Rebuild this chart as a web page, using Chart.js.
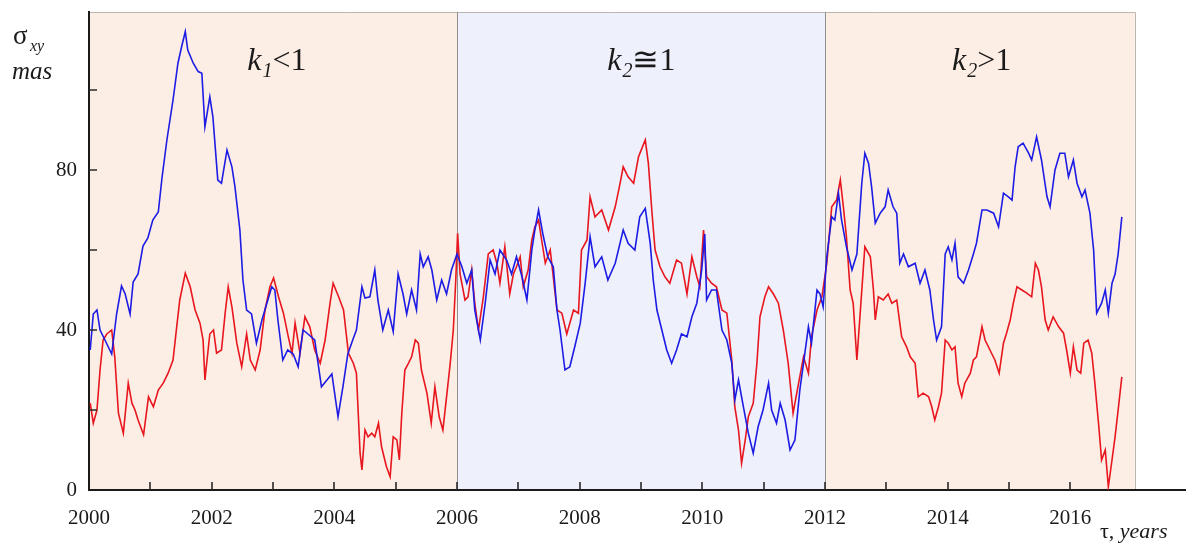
<!DOCTYPE html>
<html>
<head>
<meta charset="utf-8">
<script src="https://cdn.jsdelivr.net/npm/chart.js@4.4.1/dist/chart.umd.min.js"></script>
<style>
	html, body { margin: 0; padding: 0; background: #fff; }
	#wrap { width: 1187px; height: 546px; }
</style>
</head>
<body>
<div id="wrap"><canvas id="chart" width="1187" height="546"></canvas></div>
<script>
// blue series (sigma, mas)
const blueYears = [
	2000.02, 2000.07, 2000.13, 2000.18, 2000.26, 2000.37, 2000.45, 2000.53, 2000.59, 2000.67,
	2000.72, 2000.80, 2000.88, 2000.96, 2001.04, 2001.13, 2001.19, 2001.27, 2001.32, 2001.37,
	2001.45, 2001.51, 2001.57, 2001.61, 2001.70, 2001.78, 2001.84, 2001.89, 2001.97, 2002.02,
	2002.10, 2002.16, 2002.25, 2002.33, 2002.38, 2002.46, 2002.51, 2002.57, 2002.65, 2002.73,
	2002.82, 2002.90, 2002.98, 2003.03, 2003.08, 2003.16, 2003.24, 2003.33, 2003.41, 2003.49,
	2003.57, 2003.68, 2003.79, 2003.88, 2003.96, 2004.06, 2004.14, 2004.22, 2004.30, 2004.36,
	2004.45, 2004.50, 2004.58, 2004.66, 2004.71, 2004.79, 2004.88, 2004.96, 2005.04, 2005.12,
	2005.18, 2005.26, 2005.34, 2005.40, 2005.45, 2005.53, 2005.59, 2005.67, 2005.75, 2005.83,
	2005.91, 2006.00, 2006.08, 2006.16, 2006.24, 2006.29, 2006.38, 2006.46, 2006.54, 2006.62,
	2006.70, 2006.81, 2006.89, 2006.97, 2007.06, 2007.14, 2007.22, 2007.27, 2007.33, 2007.40,
	2007.48, 2007.57, 2007.63, 2007.68, 2007.76, 2007.84, 2007.92, 2008.01, 2008.09, 2008.17,
	2008.25, 2008.36, 2008.46, 2008.58, 2008.71, 2008.79, 2008.90, 2008.98, 2009.07, 2009.15,
	2009.20, 2009.26, 2009.34, 2009.42, 2009.50, 2009.58, 2009.66, 2009.75, 2009.83, 2009.91,
	2009.99, 2010.04, 2010.07, 2010.15, 2010.23, 2010.32, 2010.40, 2010.48, 2010.53, 2010.59,
	2010.67, 2010.75, 2010.83, 2010.91, 2010.99, 2011.08, 2011.13, 2011.21, 2011.27, 2011.35,
	2011.43, 2011.51, 2011.59, 2011.65, 2011.73, 2011.78, 2011.87, 2011.92, 2011.97, 2012.03,
	2012.11, 2012.16, 2012.22, 2012.27, 2012.35, 2012.44, 2012.52, 2012.60, 2012.65, 2012.71,
	2012.76, 2012.82, 2012.90, 2012.98, 2013.03, 2013.11, 2013.17, 2013.22, 2013.28, 2013.36,
	2013.47, 2013.55, 2013.63, 2013.71, 2013.77, 2013.82, 2013.90, 2013.96, 2014.01, 2014.07,
	2014.12, 2014.17, 2014.26, 2014.34, 2014.42, 2014.47, 2014.56, 2014.64, 2014.75, 2014.83,
	2014.91, 2014.99, 2015.05, 2015.10, 2015.15, 2015.23, 2015.32, 2015.37, 2015.45, 2015.53,
	2015.62, 2015.67, 2015.75, 2015.83, 2015.91, 2015.97, 2016.05, 2016.11, 2016.19, 2016.24,
	2016.32, 2016.38, 2016.43, 2016.51, 2016.57, 2016.62, 2016.68, 2016.73, 2016.78, 2016.84,
];
const blueValues = [
	35, 44, 45, 40, 37.5, 34, 44, 51, 49, 44,
	52, 54, 61, 63, 67.5, 69.5, 78, 87.5, 92.5, 97.5,
	106.7, 110.8, 114.6, 110, 106.7, 104.6, 104.2, 90.8, 98.3, 93.3,
	77.5, 76.7, 85, 80.8, 75.8, 65, 52.5, 45, 44, 36.7,
	42.5, 46.7, 50.8, 50, 42.5, 32.5, 35, 34, 30.8, 40,
	39, 37.5, 25.8, 27.5, 29, 18.3, 25.8, 34, 37.5, 40,
	50.8, 48, 48.3, 55, 47.5, 40, 45, 39.6, 54, 49,
	44, 50, 45, 59, 55.8, 58.3, 55, 47.5, 52.5, 49,
	55, 59, 55.8, 51.7, 55, 45, 37.5, 46.7, 57.5, 54,
	60, 57.5, 54, 58.3, 53.3, 47.5, 60, 65, 70, 64,
	58.3, 55.8, 45, 40, 30, 30.8, 35.8, 41.7, 51.7, 63.3,
	55.8, 58.3, 52.5, 56.7, 65, 61.7, 60, 68.3, 70.4, 61.7,
	52.5, 45, 40, 35, 31.7, 35, 39, 38.3, 43.3, 46.7,
	55, 64, 47.5, 50, 50, 40, 37.5, 31.7, 22.5, 27.5,
	20.8, 14.2, 9.2, 15.8, 20, 26.7, 20, 16.7, 21.7, 17.5,
	10, 12.5, 25, 31.7, 40.8, 36.7, 50, 49, 45.8, 58.3,
	68.3, 67.5, 74.2, 67.5, 60.8, 55, 59, 76.7, 84.2, 81.7,
	75.8, 66.7, 69.2, 70.8, 75, 70.8, 69.2, 56.7, 59, 55.8,
	56.7, 51.7, 55, 50, 42.5, 37.5, 40.8, 59, 60.8, 57.5,
	61.7, 53.3, 51.7, 55, 59, 61.7, 70, 70, 69.2, 65.8,
	74.2, 73.3, 72.5, 80.8, 85.8, 86.7, 84.2, 82.5, 88.3, 82.5,
	73.3, 70.8, 80, 84.2, 84.2, 78.3, 82.5, 76.7, 73.3, 75,
	69.2, 60, 44.2, 46.7, 50, 44.2, 51.7, 54, 59, 68.3,
];

// red series
const redYears = [
	2000.02, 2000.07, 2000.13, 2000.18, 2000.23, 2000.29, 2000.37, 2000.42, 2000.48, 2000.56,
	2000.64, 2000.70, 2000.75, 2000.80, 2000.89, 2000.97, 2001.05, 2001.13, 2001.21, 2001.29,
	2001.37, 2001.43, 2001.48, 2001.57, 2001.65, 2001.73, 2001.81, 2001.86, 2001.89, 2001.97,
	2002.03, 2002.08, 2002.16, 2002.22, 2002.27, 2002.33, 2002.41, 2002.49, 2002.57, 2002.63,
	2002.71, 2002.79, 2002.87, 2002.95, 2003.01, 2003.09, 2003.17, 2003.25, 2003.31, 2003.36,
	2003.44, 2003.52, 2003.60, 2003.68, 2003.77, 2003.85, 2003.93, 2003.98, 2004.07, 2004.15,
	2004.23, 2004.31, 2004.36, 2004.42, 2004.45, 2004.50, 2004.55, 2004.61, 2004.66, 2004.72,
	2004.77, 2004.85, 2004.91, 2004.96, 2005.02, 2005.06, 2005.10, 2005.15, 2005.21, 2005.26,
	2005.32, 2005.37, 2005.42, 2005.51, 2005.58, 2005.64, 2005.71, 2005.77, 2005.83, 2005.89,
	2005.94, 2005.98, 2006.01, 2006.05, 2006.13, 2006.18, 2006.24, 2006.29, 2006.35, 2006.43,
	2006.51, 2006.59, 2006.65, 2006.70, 2006.78, 2006.86, 2006.92, 2006.97, 2007.03, 2007.08,
	2007.16, 2007.22, 2007.27, 2007.33, 2007.38, 2007.44, 2007.52, 2007.57, 2007.63, 2007.71,
	2007.79, 2007.90, 2007.98, 2008.03, 2008.12, 2008.17, 2008.25, 2008.36, 2008.47, 2008.58,
	2008.66, 2008.71, 2008.79, 2008.88, 2008.96, 2009.07, 2009.12, 2009.18, 2009.23, 2009.31,
	2009.39, 2009.47, 2009.58, 2009.66, 2009.75, 2009.83, 2009.91, 2009.96, 2010.02, 2010.07,
	2010.15, 2010.23, 2010.32, 2010.40, 2010.48, 2010.53, 2010.59, 2010.64, 2010.70, 2010.75,
	2010.83, 2010.89, 2010.94, 2011.02, 2011.08, 2011.16, 2011.24, 2011.32, 2011.40, 2011.48,
	2011.57, 2011.65, 2011.73, 2011.78, 2011.87, 2011.95, 2012.03, 2012.11, 2012.19, 2012.25,
	2012.30, 2012.35, 2012.41, 2012.46, 2012.52, 2012.57, 2012.65, 2012.74, 2012.79, 2012.82,
	2012.87, 2012.95, 2013.03, 2013.09, 2013.17, 2013.25, 2013.33, 2013.39, 2013.47, 2013.52,
	2013.60, 2013.69, 2013.74, 2013.79, 2013.85, 2013.90, 2013.96, 2014.01, 2014.07, 2014.12,
	2014.17, 2014.23, 2014.28, 2014.37, 2014.42, 2014.47, 2014.56, 2014.61, 2014.69, 2014.77,
	2014.84, 2014.91, 2014.96, 2015.02, 2015.07, 2015.13, 2015.21, 2015.29, 2015.37, 2015.43,
	2015.48, 2015.53, 2015.59, 2015.64, 2015.72, 2015.81, 2015.89, 2015.94, 2016.00, 2016.05,
	2016.11, 2016.17, 2016.22, 2016.29, 2016.35, 2016.40, 2016.46, 2016.51, 2016.57, 2016.62,
	2016.68, 2016.73, 2016.78, 2016.84,
];
const redValues = [
	21.7, 16.7, 20, 30, 37.5, 39, 40, 33.3, 19.2, 14.2,
	26.7, 21.7, 20, 17.5, 13.8, 23.3, 20.8, 25, 26.7, 29.2,
	32.5, 40.8, 47.5, 54.2, 50.8, 45, 41.7, 37.5, 27.5, 39,
	40, 34.2, 35, 44.2, 50.8, 45.8, 36.7, 30.8, 39, 32.5,
	30, 35, 45, 50.8, 53, 48.3, 44.2, 38.3, 34.2, 41.7,
	34.2, 43.3, 40.8, 35, 31.7, 37.5, 46.7, 51.7, 48.3, 45,
	34.2, 31.7, 29.2, 9.2, 5, 15, 13.3, 14.2, 13.3, 16.7,
	10.8, 5.8, 3.3, 13.3, 12.5, 7.5, 19.2, 30, 31.7, 33.3,
	37.5, 36.7, 30, 24.2, 16.7, 25.8, 18.3, 15, 23.3, 31.7,
	40, 52.5, 64.2, 54, 47.5, 48.3, 55, 46.7, 40, 48.3,
	59, 60, 56.7, 51.7, 60.8, 49, 54, 55.8, 58.3, 50.8,
	55, 62.5, 65.8, 67.5, 62.5, 56.7, 60, 53.3, 45, 44.2,
	39, 45, 44.2, 60, 62.5, 73.3, 68.3, 70, 65, 70.8,
	76.7, 80.8, 78.3, 76.7, 83.3, 87.5, 81.7, 69.2, 60, 55.8,
	53.3, 51.7, 57.5, 56.7, 49, 58.3, 53.3, 50.8, 65, 53.3,
	51.7, 50.8, 45, 44.2, 32.5, 20.8, 15, 6.7, 12.5, 18.3,
	21.7, 31.7, 43.3, 48.3, 50.8, 49, 46.7, 40, 31.7, 19.2,
	26.7, 33.3, 29.2, 38.3, 45, 48.3, 56.7, 70.8, 72.5, 77.5,
	70.8, 63.3, 50, 46.7, 32.5, 43.3, 60.8, 58.3, 50, 42.5,
	48.3, 47.5, 49, 46.7, 47.5, 38.3, 35.8, 33.3, 31.7, 23.3,
	24.2, 23.3, 20.8, 17.5, 20.8, 24.2, 37.5, 36.7, 35, 35.8,
	26.7, 23.3, 26.7, 29.2, 32.5, 33.3, 40.8, 37.5, 35, 32.5,
	29.2, 36.7, 39.2, 42.5, 46.7, 50.8, 50, 49.2, 48.3, 56.7,
	55, 50.8, 42.5, 40, 43.3, 40.8, 39.2, 35, 29.2, 35.8,
	30, 29.2, 36.7, 37.5, 34.2, 26.7, 16.7, 7.5, 10, 0.8,
	7.5, 13.3, 20, 28.3,
];

const xLabelYears = [2000, 2002, 2004, 2006, 2008, 2010, 2012, 2014, 2016];
const yLabelValues = [0, 40, 80];
const zoneEdges = [2000, 2006, 2012, 2017.05];
const zoneLabels = [
	{ k: 'k', sub: '1', rest: '<1', from: 2002.58 },
	{ k: 'k', sub: '2', rest: '\u22451', from: 2008.45 },
	{ k: 'k', sub: '2', rest: '>1', from: 2014.07 },
];

const SERIF = '"Liberation Serif", "DejaVu Serif", serif';
const zoneFill = [ '#fdeee5', '#eef0fb', '#fdeee5' ];

const toPoints = ( xs, ys ) => xs.map( ( x, i ) => ( { x, y: ys[ i ] } ) );

// no extra room for the end labels: the plot box is placed by hand
const noPad = ( s ) => {
	s.paddingLeft = 0;
	s.paddingRight = 0;
	s.paddingTop = 0;
	s.paddingBottom = 0;
};

// shaded zones, frame and the two separators
const backdrop = {
	id: 'backdrop',
	beforeDraw( chart ) {
		const { ctx, chartArea: a, scales: { x } } = chart;
		ctx.save();
		for ( let i = 0; i < zoneEdges.length - 1; i++ ) {
			const x0 = x.getPixelForValue( zoneEdges[ i ] );
			const x1 = x.getPixelForValue( zoneEdges[ i + 1 ] );
			ctx.fillStyle = zoneFill[ i ];
			ctx.fillRect( x0, a.top, x1 - x0, a.bottom - a.top );
		}
		const xEnd = Math.round( x.getPixelForValue( zoneEdges[ zoneEdges.length - 1 ] ) ) + 0.5;
		ctx.strokeStyle = '#bdb6b0';
		ctx.lineWidth = 1;
		ctx.beginPath();
		ctx.moveTo( a.left, a.top + 0.5 );
		ctx.lineTo( xEnd, a.top + 0.5 );
		ctx.lineTo( xEnd, a.bottom );
		ctx.stroke();
		ctx.strokeStyle = '#8e8e8e';
		ctx.beginPath();
		zoneEdges.slice( 1, -1 ).forEach( ( yr ) => {
			const px = Math.round( x.getPixelForValue( yr ) ) + 0.5;
			ctx.moveTo( px, a.top );
			ctx.lineTo( px, a.bottom );
		} );
		ctx.stroke();
		ctx.restore();
	},
};

// inward tick marks, zone labels and axis titles
const decor = {
	id: 'decor',
	afterDraw( chart ) {
		const { ctx, chartArea: a, scales: { x, y } } = chart;
		ctx.save();
		ctx.strokeStyle = '#2a2a2a';
		ctx.lineWidth = 1.6;
		ctx.beginPath();
		x.ticks.forEach( ( t ) => {
			if ( Number.isInteger( t.value ) && t.value > x.min ) {
				const px = Math.round( x.getPixelForValue( t.value ) );
				ctx.moveTo( px, a.bottom );
				ctx.lineTo( px, a.bottom - 8 );
			}
		} );
		y.ticks.forEach( ( t ) => {
			if ( t.value > 0 && t.value % 20 === 0 ) {
				const py = Math.round( y.getPixelForValue( t.value ) );
				ctx.moveTo( a.left, py );
				ctx.lineTo( a.left + 8, py );
			}
		} );
		ctx.stroke();

		ctx.fillStyle = '#1a1a1a';
		ctx.textBaseline = 'alphabetic';
		ctx.textAlign = 'left';
		const base = y.getPixelForValue( 105 );
		zoneLabels.forEach( ( lab ) => {
			let px = x.getPixelForValue( lab.from );
			ctx.font = 'italic 32px ' + SERIF;
			ctx.fillText( lab.k, px, base );
			px += ctx.measureText( lab.k ).width + 1;
			ctx.font = 'italic 20px ' + SERIF;
			ctx.fillText( lab.sub, px, base + 7 );
			px += ctx.measureText( lab.sub ).width;
			ctx.font = '32px ' + SERIF;
			ctx.fillText( lab.rest, px, base );
		} );

		// y title: sigma_xy, mas
		ctx.font = '27px ' + SERIF;
		ctx.fillText( '\u03c3', 13, 44 );
		ctx.font = 'italic 16px ' + SERIF;
		ctx.fillText( 'xy', 30, 51 );
		ctx.font = 'italic 25px ' + SERIF;
		ctx.fillText( 'mas', 12, 79 );

		// x title: tau, years
		ctx.font = '22px ' + SERIF;
		ctx.fillText( '\u03c4,', 1100, 538 );
		const w = ctx.measureText( '\u03c4, ' ).width;
		ctx.font = 'italic 22px ' + SERIF;
		ctx.fillText( 'years', 1100 + w, 538 );
		ctx.restore();
	},
};

new Chart( document.getElementById( 'chart' ), { // eslint-disable-line no-new
	type: 'scatter',
	data: {
		datasets: [
			{
				data: toPoints( blueYears, blueValues ),
				borderColor: '#1c1ce4',
				borderWidth: 1.6,
				showLine: true,
				pointRadius: 0,
				tension: 0,
				order: 0,
			},
			{
				data: toPoints( redYears, redValues ),
				borderColor: '#e8161e',
				borderWidth: 1.6,
				showLine: true,
				pointRadius: 0,
				tension: 0,
				order: 1,
			},
		],
	},
	options: {
		responsive: false,
		animation: false,
		devicePixelRatio: 1,
		layout: { padding: { top: 12, right: 2, left: 0, bottom: 0 } },
		plugins: {
			legend: { display: false },
			tooltip: { enabled: false },
		},
		scales: {
			x: {
				type: 'linear',
				min: 2000,
				max: 2017.87,
				afterFit: ( s ) => { s.height = 56; noPad( s ); },
				grid: { display: true, drawOnChartArea: false, drawTicks: false },
				border: { display: true, color: '#1a1a1a', width: 2 },
				ticks: {
					stepSize: 1,
					autoSkip: false,
					maxRotation: 0,
					padding: 16,
					color: '#1a1a1a',
					font: { family: SERIF, size: 21 },
					callback: ( v ) => ( xLabelYears.includes( v ) ? String( v ) : '' ),
				},
			},
			y: {
				min: 0,
				max: 119.5,
				afterFit: ( s ) => { s.width = 89; noPad( s ); },
				grid: { display: true, drawOnChartArea: false, drawTicks: false },
				border: { display: true, color: '#1a1a1a', width: 2 },
				ticks: {
					stepSize: 20,
					padding: 12,
					color: '#1a1a1a',
					font: { family: SERIF, size: 21 },
					callback: ( v ) => ( yLabelValues.includes( v ) ? String( v ) : '' ),
				},
			},
		},
	},
	plugins: [ backdrop, decor ],
} );
</script>
</body>
</html>
